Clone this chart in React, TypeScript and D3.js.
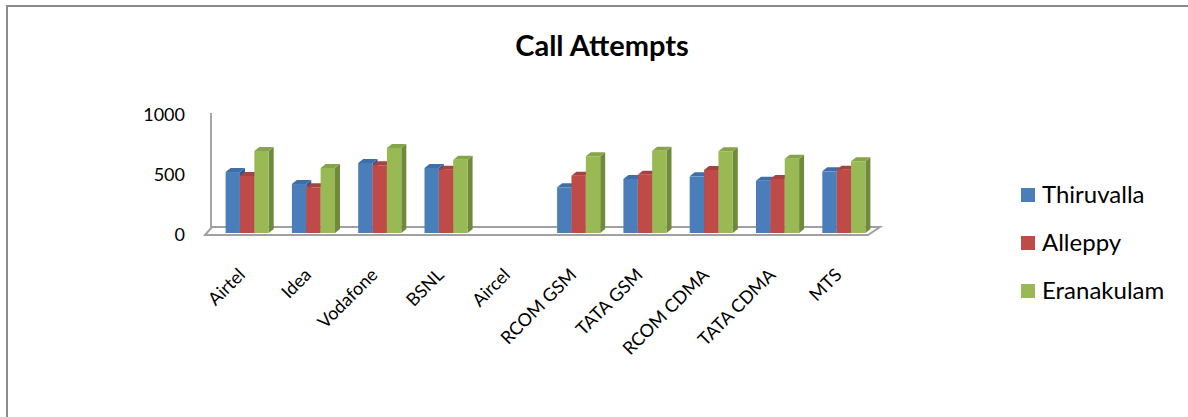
import React from "react";
import * as d3 from "d3";

const categories = ["Airtel", "Idea", "Vodafone", "BSNL", "Aircel", "RCOM GSM", "TATA GSM", "RCOM CDMA", "TATA CDMA", "MTS"];
const seriesNames = ["Thiruvalla", "Alleppy", "Eranakulam"];
const thiruvalla = [508, 408, 583, 542, 0, 381, 450, 472, 436, 514];
const alleppy = [475, 381, 564, 528, 0, 478, 486, 525, 450, 528];
const eranakulam = [683, 542, 708, 611, 0, 639, 686, 681, 619, 597];
const yTicks = [0, 500, 1000];
const title = "Call Attempts";

const frontColors = ["#4A7EBB", "#BE4B48", "#98B954"];
const sideColors = ["#34598A", "#8C3735", "#6F8A3C"];
const topColors = ["#3F6EA8", "#A84240", "#86A549"];

const FONT = "Lato, Carlito, 'Liberation Sans', sans-serif";

export default function App() {
  const W = 1188, H = 417;
  const seriesValues = [thiruvalla, alleppy, eranakulam];
  const x = d3.scaleBand<string>().domain(categories).range([214, 877]).paddingInner(0.35).paddingOuter(0.175);
  const xs = d3.scaleBand<number>().domain([0, 1, 2]).range([0, x.bandwidth()]);
  const y = d3.scaleLinear().domain([0, 1000]).range([233, 113]);
  const dx = 5, dy = -4;
  const base = y(0);

  const bars: React.ReactNode[] = [];
  categories.forEach((c, ci) => {
    seriesValues.forEach((vals, si) => {
      const v = vals[ci];
      if (!v) return;
      const x0 = (x(c) as number) + (xs(si) as number);
      const w = xs.bandwidth();
      const yt = y(v);
      const front = `M${x0},${base}L${x0 + w},${base}L${x0 + w},${yt}L${x0},${yt}Z`;
      const side = `M${x0 + w},${base}L${x0 + w + dx},${base + dy}L${x0 + w + dx},${yt + dy}L${x0 + w},${yt}Z`;
      const top = `M${x0},${yt}L${x0 + w},${yt}L${x0 + w + dx},${yt + dy}L${x0 + dx},${yt + dy}Z`;
      bars.push(
        <g key={`${ci}-${si}`}>
          <path d={side} fill={sideColors[si]} />
          <path d={top} fill={topColors[si]} />
          <path d={front} fill={frontColors[si]} />
        </g>
      );
    });
  });

  const floor = `M205,235L868,235L880,227L212,227Z`;

  return (
    <svg width={W} height={H} style={{ position: "absolute", left: 0, top: 0, background: "#fff" }}>
      <rect x={7} y={6} width={1300} height={600} fill="#fff" stroke="#8c8c8c" strokeWidth={2} />
      <text x={602} y={56} textAnchor="middle" fontFamily={FONT} fontWeight="bold" fontSize={29} fill="#000">{title}</text>
      {/* back wall axis */}
      <line x1={211} y1={113} x2={211} y2={228} stroke="#a6a6a6" strokeWidth={2} />
      <path d={floor} fill="#fff" stroke="#a0a0a0" strokeWidth={2} />
      {yTicks.map(t => (
        <text key={t} x={185} y={y(t) + 2} dy="0.35em" textAnchor="end" fontFamily={FONT} fontSize={18} fill="#000">{t}</text>
      ))}
      {bars}
      {categories.map(c => {
        const cx = (x(c) as number) + x.bandwidth() / 2 - 1;
        const cy = 276;
        return (
          <text key={c} x={cx} y={cy} transform={`rotate(-45,${cx},${cy})`} textAnchor="end" fontFamily={FONT} fontSize={18} fill="#000">{c}</text>
        );
      })}
      {seriesNames.map((s, i) => (
        <g key={s} transform={`translate(1021,${188 + i * 48})`}>
          <rect x={0} y={0} width={14} height={14} fill={frontColors[i]} />
          <text x={21} y={15} fontFamily={FONT} fontSize={24} fill="#000">{s}</text>
        </g>
      ))}
    </svg>
  );
}
